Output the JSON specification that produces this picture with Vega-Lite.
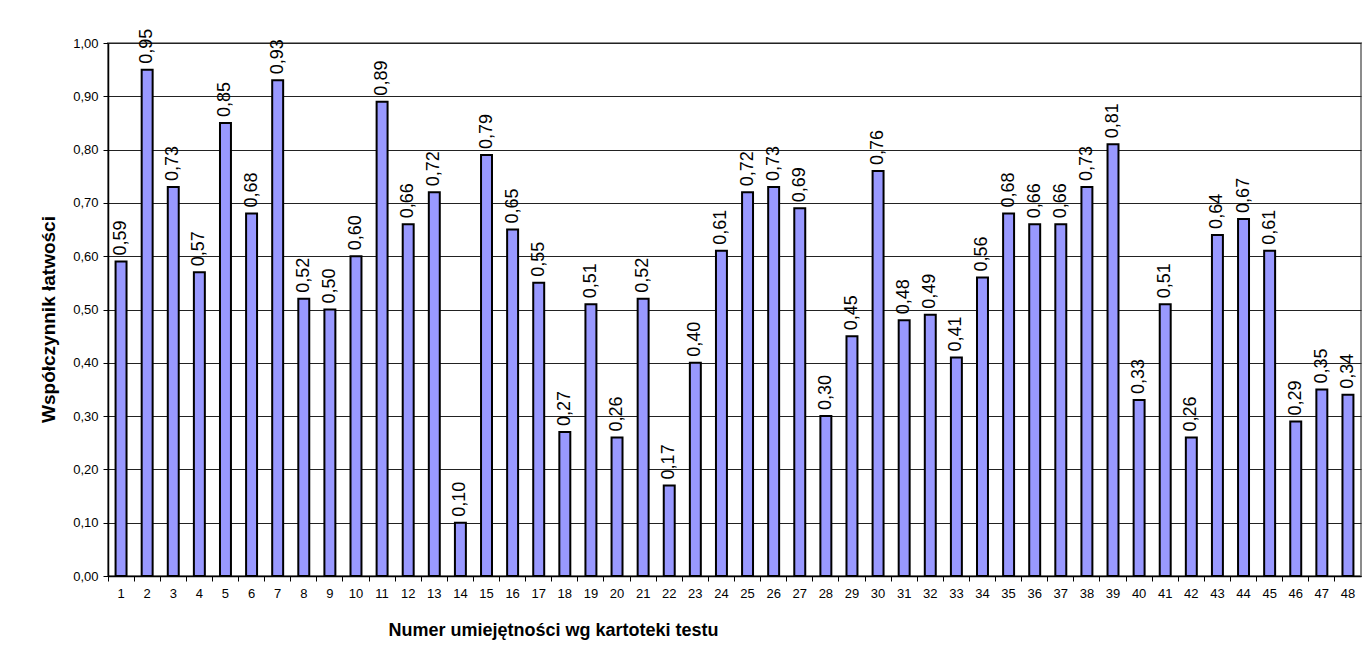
{
  "$schema": "https://vega.github.io/schema/vega-lite/v6.json",
  "width": 1253,
  "height": 533,
  "autosize": "none",
  "padding": {"left": 108, "top": 43, "right": 11, "bottom": 87},
  "background": "white",
  "config": {
    "locale": {"number": {"decimal": ",", "thousands": " ", "grouping": [3], "currency": ["", " zł"]}},
    "font": "Liberation Sans",
    "view": {"stroke": "#8c8c8c", "strokeWidth": 2}
  },
  "data": {
    "values": [
      {"nr": 1, "v": 0.59}, {"nr": 2, "v": 0.95}, {"nr": 3, "v": 0.73}, {"nr": 4, "v": 0.57},
      {"nr": 5, "v": 0.85}, {"nr": 6, "v": 0.68}, {"nr": 7, "v": 0.93}, {"nr": 8, "v": 0.52},
      {"nr": 9, "v": 0.50}, {"nr": 10, "v": 0.60}, {"nr": 11, "v": 0.89}, {"nr": 12, "v": 0.66},
      {"nr": 13, "v": 0.72}, {"nr": 14, "v": 0.10}, {"nr": 15, "v": 0.79}, {"nr": 16, "v": 0.65},
      {"nr": 17, "v": 0.55}, {"nr": 18, "v": 0.27}, {"nr": 19, "v": 0.51}, {"nr": 20, "v": 0.26},
      {"nr": 21, "v": 0.52}, {"nr": 22, "v": 0.17}, {"nr": 23, "v": 0.40}, {"nr": 24, "v": 0.61},
      {"nr": 25, "v": 0.72}, {"nr": 26, "v": 0.73}, {"nr": 27, "v": 0.69}, {"nr": 28, "v": 0.30},
      {"nr": 29, "v": 0.45}, {"nr": 30, "v": 0.76}, {"nr": 31, "v": 0.48}, {"nr": 32, "v": 0.49},
      {"nr": 33, "v": 0.41}, {"nr": 34, "v": 0.56}, {"nr": 35, "v": 0.68}, {"nr": 36, "v": 0.66},
      {"nr": 37, "v": 0.66}, {"nr": 38, "v": 0.73}, {"nr": 39, "v": 0.81}, {"nr": 40, "v": 0.33},
      {"nr": 41, "v": 0.51}, {"nr": 42, "v": 0.26}, {"nr": 43, "v": 0.64}, {"nr": 44, "v": 0.67},
      {"nr": 45, "v": 0.61}, {"nr": 46, "v": 0.29}, {"nr": 47, "v": 0.35}, {"nr": 48, "v": 0.34}
    ]
  },
  "encoding": {
    "x": {
      "field": "nr",
      "type": "ordinal",
      "sort": null,
      "scale": {"paddingInner": 0, "paddingOuter": 0},
      "axis": {
        "title": "Numer umiejętności wg kartoteki testu",
        "titleFont": "Liberation Sans",
        "titleFontSize": 18,
        "titleFontWeight": "bold",
        "titleColor": "black",
        "titleX": 445,
        "titleY": 54,
        "titleAlign": "center",
        "titleBaseline": "middle",
        "labelAngle": 0,
        "labelFontSize": 13,
        "labelColor": "black",
        "labelPadding": 6,
        "bandPosition": 0,
        "tickColor": "black",
        "tickSize": 5,
        "domainColor": "black",
        "domainWidth": 1.5,
        "grid": false
      }
    },
    "y": {
      "field": "v",
      "type": "quantitative",
      "scale": {"domain": [0, 1], "nice": false},
      "axis": {
        "title": "Współczynnik łatwości",
        "titleFont": "Liberation Sans",
        "titleFontSize": 19,
        "titleFontWeight": "bold",
        "titleColor": "black",
        "titleX": -60,
        "titleY": 276,
        "titleAngle": -90,
        "titleAlign": "center",
        "titleBaseline": "middle",
        "values": [0, 0.1, 0.2, 0.3, 0.4, 0.5, 0.6, 0.7, 0.8, 0.9, 1.0],
        "format": ".2f",
        "labelFontSize": 13,
        "labelColor": "black",
        "labelPadding": 5,
        "tickColor": "black",
        "tickSize": 5,
        "domainColor": "black",
        "domainWidth": 1.5,
        "grid": true,
        "gridColor": "#222222",
        "gridWidth": 1
      }
    }
  },
  "layer": [
    {
      "mark": {"type": "bar", "width": {"band": 0.42}, "fill": "#9999ff", "stroke": "black", "strokeWidth": 2}
    },
    {
      "mark": {"type": "text", "angle": 270, "align": "left", "baseline": "middle", "dx": 6, "fontSize": 18, "color": "black"},
      "encoding": {"text": {"field": "v", "type": "quantitative", "format": ".2f"}}
    }
  ]
}
